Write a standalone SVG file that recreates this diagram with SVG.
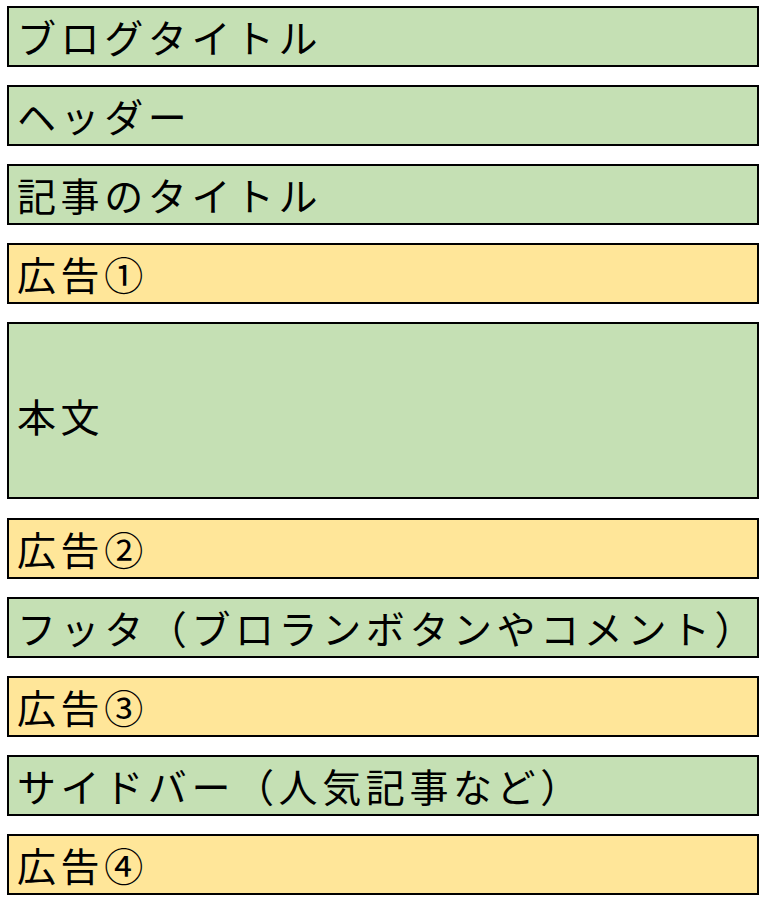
<svg xmlns="http://www.w3.org/2000/svg" width="764" height="902" viewBox="0 0 764 902">
<style>
.box{stroke:#000;stroke-width:2}
.g{fill:#C5E0B4}
.y{fill:#FFE699}
text{font-family:"Noto Sans CJK JP","Noto Sans CJK SC",sans-serif;font-size:39px;fill:#000;letter-spacing:4.6px}
</style>
<rect width="764" height="902" fill="#fff"/>
<g id="blog-title"><rect class="box g" x="8" y="7" width="750" height="59"/><text x="17" y="53">ブログタイトル</text></g>
<g id="header"><rect class="box g" x="8" y="86" width="750" height="59"/><text x="17" y="132">ヘッダー</text></g>
<g id="article-title"><rect class="box g" x="8" y="165" width="750" height="59"/><text x="17" y="211">記事のタイトル</text></g>
<g id="ad1"><rect class="box y" x="8" y="244" width="750" height="59"/><text x="17" y="290">広告①</text></g>
<g id="body"><rect class="box g" x="8" y="323" width="750" height="175"/><text x="17" y="432">本文</text></g>
<g id="ad2"><rect class="box y" x="8" y="519" width="750" height="59"/><text x="17" y="565">広告②</text></g>
<g id="footer"><rect class="box g" x="8" y="598" width="750" height="59"/><text x="17" y="644">フッタ（ブロランボタンやコメント）</text></g>
<g id="ad3"><rect class="box y" x="8" y="677" width="750" height="59"/><text x="17" y="723">広告③</text></g>
<g id="sidebar"><rect class="box g" x="8" y="756" width="750" height="59"/><text x="17" y="802">サイドバー（人気記事など）</text></g>
<g id="ad4"><rect class="box y" x="8" y="835" width="750" height="59"/><text x="17" y="881">広告④</text></g>
<g id="connectors"></g>
</svg>
